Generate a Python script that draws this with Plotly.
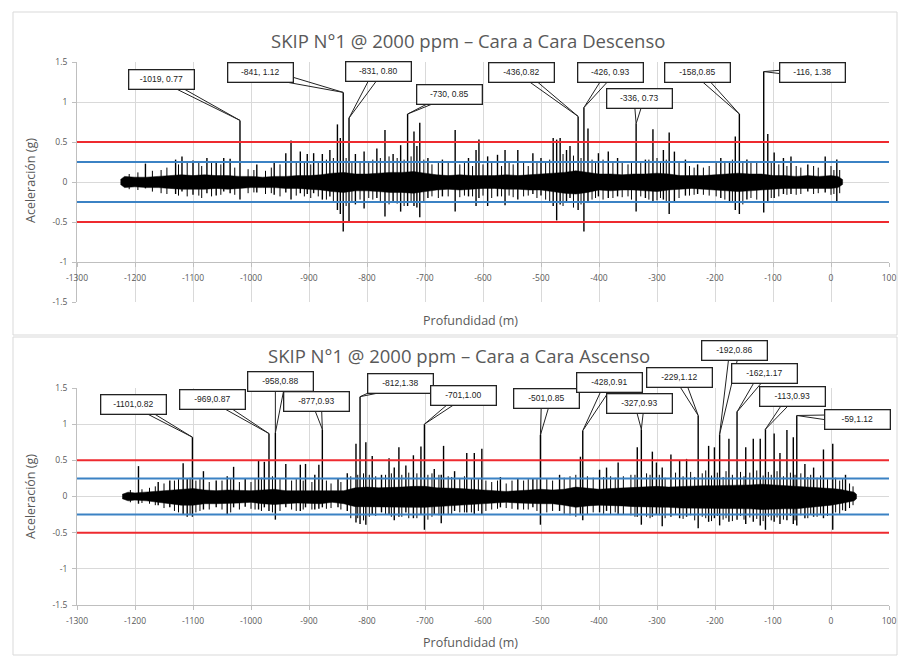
import plotly.graph_objects as go

# ---------------- DATA ----------------
X_TICKS = list(range(-1300, 101, 100))
X_TICK_TEXT = [str(v) for v in X_TICKS]
Y_TICKS = [-1.5, -1, -0.5, 0, 0.5, 1, 1.5]
Y_TICK_TEXT = ["-1.5", "-1", "-0.5", "0", "0.5", "1", "1.5"]
RED_LIMITS = [0.5, -0.5]
BLUE_LIMITS = [0.25, -0.25]

TITLE_TOP = "SKIP N°1 @ 2000 ppm – Cara a Cara Descenso"
TITLE_BOTTOM = "SKIP N°1 @ 2000 ppm – Cara a Cara Ascenso"
X_TITLE = "Profundidad (m)"
Y_TITLE = "Aceleración (g)"

# dense noise core (depth, upper, lower) - Descenso
TOP_ENVELOPE = [
    (-1225, 0.03, -0.03), (-1218, 0.07, -0.07), (-1200, 0.06, -0.06), (-1180, 0.06, -0.07),
    (-1160, 0.07, -0.07), (-1140, 0.08, -0.08), (-1120, 0.09, -0.09), (-1100, 0.08, -0.09),
    (-1080, 0.09, -0.09), (-1060, 0.08, -0.08), (-1040, 0.08, -0.09), (-1020, 0.07, -0.08),
    (-1000, 0.07, -0.07), (-980, 0.06, -0.07), (-960, 0.07, -0.07), (-940, 0.07, -0.08),
    (-920, 0.08, -0.08), (-900, 0.08, -0.09), (-880, 0.09, -0.10), (-860, 0.11, -0.12),
    (-840, 0.12, -0.13), (-820, 0.10, -0.11), (-800, 0.10, -0.11), (-780, 0.11, -0.12),
    (-760, 0.12, -0.13), (-740, 0.12, -0.13), (-720, 0.13, -0.14), (-700, 0.11, -0.12),
    (-680, 0.09, -0.10), (-660, 0.08, -0.09), (-640, 0.09, -0.10), (-620, 0.08, -0.09),
    (-600, 0.08, -0.08), (-580, 0.08, -0.08), (-560, 0.09, -0.09), (-540, 0.08, -0.09),
    (-520, 0.09, -0.10), (-500, 0.10, -0.10), (-480, 0.11, -0.12), (-460, 0.12, -0.14),
    (-440, 0.14, -0.15), (-420, 0.12, -0.13), (-400, 0.10, -0.10), (-380, 0.10, -0.11),
    (-360, 0.09, -0.10), (-340, 0.10, -0.10), (-320, 0.10, -0.11), (-300, 0.11, -0.12),
    (-280, 0.10, -0.10), (-260, 0.08, -0.09), (-240, 0.08, -0.08), (-220, 0.08, -0.09),
    (-200, 0.09, -0.10), (-180, 0.10, -0.11), (-160, 0.11, -0.12), (-140, 0.10, -0.11),
    (-120, 0.10, -0.10), (-100, 0.08, -0.09), (-80, 0.08, -0.08), (-60, 0.07, -0.08),
    (-40, 0.08, -0.08), (-20, 0.07, -0.08), (0, 0.08, -0.08), (12, 0.07, -0.07),
    (20, 0.03, -0.03),
]

# small oscillation peaks (depth, peak, trough) - Descenso
TOP_MINOR = [
    (-1210, 0.10, -0.09), (-1195, 0.12, -0.10), (-1170, 0.14, -0.12), (-1155, 0.15, -0.14),
    (-1145, 0.18, -0.15), (-1125, 0.22, -0.17), (-1110, 0.24, -0.18), (-1090, 0.25, -0.17),
    (-1085, 0.20, -0.20), (-1068, 0.24, -0.18), (-1052, 0.22, -0.16), (-1028, 0.18, -0.16),
    (-1005, 0.16, -0.14), (-995, 0.15, -0.13), (-975, 0.14, -0.15), (-965, 0.18, -0.14),
    (-950, 0.22, -0.18), (-922, 0.24, -0.17), (-908, 0.26, -0.18), (-897, 0.22, -0.20),
    (-884, 0.25, -0.18), (-870, 0.28, -0.22), (-858, 0.30, -0.26), (-836, 0.30, -0.30),
    (-826, 0.26, -0.25), (-812, 0.25, -0.22), (-797, 0.24, -0.20), (-790, 0.28, -0.22),
    (-777, 0.30, -0.24), (-762, 0.32, -0.28), (-748, 0.30, -0.27), (-736, 0.28, -0.30),
    (-724, 0.32, -0.26), (-702, 0.28, -0.24), (-688, 0.22, -0.18), (-677, 0.24, -0.20),
    (-660, 0.25, -0.18), (-640, 0.22, -0.19), (-632, 0.24, -0.17), (-618, 0.20, -0.18),
    (-600, 0.22, -0.17), (-585, 0.24, -0.20), (-568, 0.20, -0.18), (-555, 0.25, -0.17),
    (-548, 0.22, -0.19), (-530, 0.24, -0.18), (-522, 0.20, -0.17), (-507, 0.24, -0.20),
    (-492, 0.26, -0.22), (-485, 0.28, -0.24), (-462, 0.35, -0.30), (-444, 0.33, -0.32),
    (-431, 0.30, -0.28), (-412, 0.28, -0.22), (-406, 0.25, -0.20), (-393, 0.28, -0.22),
    (-376, 0.26, -0.20), (-360, 0.24, -0.19), (-350, 0.22, -0.18), (-344, 0.26, -0.22),
    (-328, 0.24, -0.18), (-314, 0.28, -0.22), (-300, 0.30, -0.23), (-294, 0.26, -0.20),
    (-284, 0.28, -0.24), (-262, 0.24, -0.20), (-244, 0.20, -0.17), (-236, 0.18, -0.16),
    (-220, 0.18, -0.16), (-210, 0.20, -0.17), (-198, 0.24, -0.18), (-183, 0.26, -0.22),
    (-170, 0.28, -0.24), (-152, 0.26, -0.28), (-138, 0.24, -0.20), (-128, 0.26, -0.22),
    (-103, 0.24, -0.20), (-90, 0.22, -0.18), (-76, 0.20, -0.16), (-60, 0.20, -0.16),
    (-52, 0.18, -0.15), (-30, 0.20, -0.15), (-22, 0.18, -0.14), (0, 0.20, -0.16),
    (5, 0.15, -0.15), (15, 0.15, -0.14),
]

# large spikes (depth, peak, trough) - Descenso
TOP_SPIKES = [
    (-1182, 0.23, -0.08), (-1130, 0.28, -0.15), (-1119, 0.32, -0.12), (-1100, 0.27, -0.16),
    (-1076, 0.30, -0.14), (-1060, 0.26, -0.17), (-1047, 0.30, -0.12), (-1036, 0.29, -0.14),
    (-1019, 0.77, -0.22), (-990, 0.22, -0.13), (-960, 0.24, -0.16), (-940, 0.36, -0.13),
    (-931, 0.52, -0.22), (-915, 0.38, -0.14), (-903, 0.35, -0.15), (-892, 0.36, -0.14),
    (-877, 0.35, -0.22), (-864, 0.40, -0.18), (-851, 0.72, -0.35), (-846, 0.55, -0.40),
    (-841, 1.12, -0.62), (-831, 0.80, -0.50), (-820, 0.35, -0.28), (-805, 0.38, -0.33),
    (-783, 0.42, -0.20), (-769, 0.65, -0.43), (-755, 0.35, -0.25), (-742, 0.46, -0.37),
    (-730, 0.85, -0.30), (-719, 0.63, -0.30), (-714, 0.45, -0.32), (-709, 0.74, -0.44),
    (-695, 0.30, -0.20), (-670, 0.28, -0.18), (-648, 0.65, -0.37), (-625, 0.30, -0.18),
    (-612, 0.40, -0.30), (-607, 0.53, -0.20), (-592, 0.32, -0.30), (-575, 0.34, -0.18),
    (-562, 0.40, -0.29), (-540, 0.40, -0.22), (-514, 0.36, -0.15), (-500, 0.30, -0.17),
    (-479, 0.55, -0.30), (-473, 0.53, -0.48), (-467, 0.55, -0.28), (-456, 0.40, -0.25),
    (-450, 0.45, -0.20), (-436, 0.82, -0.35), (-426, 0.93, -0.62), (-419, 0.67, -0.25),
    (-401, 0.36, -0.18), (-384, 0.38, -0.20), (-368, 0.30, -0.18), (-336, 0.73, -0.37),
    (-320, 0.28, -0.20), (-307, 0.66, -0.25), (-289, 0.40, -0.22), (-279, 0.62, -0.40),
    (-270, 0.38, -0.25), (-251, 0.28, -0.17), (-230, 0.22, -0.15), (-190, 0.30, -0.20),
    (-175, 0.26, -0.25), (-165, 0.57, -0.35), (-158, 0.85, -0.40), (-145, 0.28, -0.22),
    (-116, 1.38, -0.38), (-109, 0.60, -0.25), (-98, 0.37, -0.20), (-82, 0.30, -0.15),
    (-69, 0.32, -0.15), (-40, 0.22, -0.12), (-10, 0.32, -0.13), (10, 0.28, -0.25),
]

# labelled peaks - Descenso
TOP_PEAK_X = [-1019, -841, -831, -730, -436, -426, -336, -158, -116]
TOP_PEAK_Y = [0.77, 1.12, 0.80, 0.85, 0.82, 0.93, 0.73, 0.85, 1.38]
TOP_PEAK_TEXT = ["-1019, 0.77", "-841, 1.12", "-831, 0.80", "-730, 0.85", "-436,0.82",
                 "-426, 0.93", "-336, 0.73", "-158,0.85", "-116, 1.38"]

# dense noise core - Ascenso
BOTTOM_ENVELOPE = [
    (-1222, 0.03, -0.03), (-1212, 0.06, -0.06), (-1200, 0.05, -0.05), (-1180, 0.06, -0.06),
    (-1160, 0.07, -0.07), (-1140, 0.08, -0.10), (-1120, 0.10, -0.12), (-1100, 0.11, -0.12),
    (-1080, 0.09, -0.10), (-1060, 0.08, -0.10), (-1040, 0.09, -0.10), (-1020, 0.08, -0.09),
    (-1000, 0.08, -0.08), (-980, 0.09, -0.10), (-960, 0.10, -0.11), (-940, 0.08, -0.10),
    (-920, 0.08, -0.09), (-900, 0.08, -0.09), (-880, 0.08, -0.10), (-860, 0.07, -0.08),
    (-840, 0.08, -0.10), (-820, 0.12, -0.14), (-800, 0.13, -0.15), (-780, 0.12, -0.14),
    (-760, 0.12, -0.14), (-740, 0.13, -0.15), (-720, 0.14, -0.15), (-700, 0.14, -0.15),
    (-680, 0.12, -0.14), (-660, 0.12, -0.13), (-640, 0.11, -0.12), (-620, 0.10, -0.12),
    (-600, 0.09, -0.10), (-580, 0.08, -0.09), (-560, 0.07, -0.08), (-540, 0.08, -0.09),
    (-520, 0.09, -0.10), (-500, 0.10, -0.10), (-480, 0.09, -0.10), (-460, 0.10, -0.12),
    (-440, 0.13, -0.15), (-420, 0.12, -0.13), (-400, 0.10, -0.12), (-380, 0.11, -0.12),
    (-360, 0.12, -0.13), (-340, 0.12, -0.14), (-320, 0.13, -0.15), (-300, 0.14, -0.15),
    (-280, 0.13, -0.15), (-260, 0.14, -0.16), (-240, 0.15, -0.16), (-220, 0.15, -0.17),
    (-200, 0.15, -0.17), (-180, 0.15, -0.17), (-160, 0.15, -0.17), (-140, 0.16, -0.17),
    (-120, 0.17, -0.18), (-100, 0.16, -0.18), (-80, 0.15, -0.17), (-60, 0.15, -0.17),
    (-40, 0.14, -0.15), (-20, 0.12, -0.14), (0, 0.11, -0.12), (15, 0.10, -0.10),
    (30, 0.08, -0.08), (40, 0.06, -0.06), (44, 0.03, -0.03),
]

# small oscillation peaks - Ascenso
BOTTOM_MINOR = [
    (-1208, 0.09, -0.08), (-1188, 0.10, -0.09), (-1175, 0.12, -0.10), (-1165, 0.14, -0.12),
    (-1150, 0.18, -0.16), (-1132, 0.22, -0.20), (-1125, 0.24, -0.22), (-1105, 0.26, -0.25),
    (-1095, 0.22, -0.22), (-1088, 0.24, -0.20), (-1072, 0.20, -0.18), (-1050, 0.22, -0.18),
    (-1035, 0.24, -0.22), (-1020, 0.20, -0.18), (-1000, 0.20, -0.17), (-993, 0.25, -0.18),
    (-982, 0.26, -0.20), (-963, 0.28, -0.22), (-950, 0.24, -0.20), (-930, 0.22, -0.18),
    (-922, 0.24, -0.20), (-910, 0.22, -0.18), (-895, 0.20, -0.18), (-870, 0.22, -0.17),
    (-862, 0.18, -0.16), (-845, 0.20, -0.18), (-828, 0.28, -0.30), (-816, 0.30, -0.30),
    (-806, 0.32, -0.33), (-796, 0.30, -0.28), (-785, 0.28, -0.27), (-768, 0.30, -0.25),
    (-758, 0.32, -0.28), (-740, 0.30, -0.28), (-728, 0.33, -0.30), (-714, 0.32, -0.30),
    (-695, 0.30, -0.32), (-688, 0.32, -0.28), (-676, 0.30, -0.26), (-660, 0.28, -0.25),
    (-654, 0.27, -0.24), (-640, 0.25, -0.22), (-632, 0.28, -0.22), (-620, 0.25, -0.22),
    (-608, 0.24, -0.20), (-595, 0.22, -0.20), (-585, 0.20, -0.18), (-575, 0.22, -0.17),
    (-560, 0.18, -0.16), (-550, 0.22, -0.17), (-530, 0.22, -0.18), (-522, 0.24, -0.18),
    (-507, 0.24, -0.20), (-490, 0.24, -0.22), (-480, 0.22, -0.20), (-460, 0.26, -0.24),
    (-450, 0.28, -0.26), (-440, 0.30, -0.28), (-420, 0.28, -0.25), (-410, 0.26, -0.22),
    (-392, 0.27, -0.24), (-380, 0.28, -0.25), (-372, 0.26, -0.22), (-358, 0.28, -0.25),
    (-345, 0.30, -0.26), (-338, 0.30, -0.28), (-318, 0.32, -0.28), (-312, 0.30, -0.30),
    (-296, 0.30, -0.26), (-286, 0.26, -0.30), (-268, 0.33, -0.24), (-255, 0.28, -0.31),
    (-242, 0.34, -0.26), (-235, 0.27, -0.33), (-222, 0.32, -0.28), (-216, 0.36, -0.30),
    (-206, 0.29, -0.34), (-196, 0.33, -0.27), (-186, 0.27, -0.32), (-181, 0.35, -0.30),
    (-170, 0.30, -0.34), (-156, 0.34, -0.27), (-150, 0.28, -0.32), (-140, 0.33, -0.29),
    (-128, 0.36, -0.31), (-117, 0.29, -0.34), (-108, 0.34, -0.28), (-103, 0.30, -0.33),
    (-93, 0.35, -0.29), (-82, 0.28, -0.32), (-70, 0.33, -0.27), (-62, 0.30, -0.33),
    (-52, 0.32, -0.26), (-40, 0.27, -0.30), (-35, 0.30, -0.25), (-24, 0.26, -0.28),
    (-18, 0.29, -0.24), (-6, 0.24, -0.27), (8, 0.26, -0.22), (15, 0.22, -0.24),
    (20, 0.24, -0.19), (32, 0.18, -0.16), (38, 0.14, -0.12),
]

# large spikes - Ascenso
BOTTOM_SPIKES = [
    (-1194, 0.42, -0.10), (-1160, 0.20, -0.12), (-1140, 0.22, -0.15), (-1117, 0.46, -0.25),
    (-1110, 0.25, -0.28), (-1101, 0.82, -0.28), (-1082, 0.35, -0.18), (-1060, 0.22, -0.15),
    (-1041, 0.28, -0.25), (-1030, 0.41, -0.15), (-1010, 0.25, -0.14), (-987, 0.50, -0.18),
    (-977, 0.48, -0.15), (-969, 0.87, -0.20), (-958, 0.88, -0.32), (-940, 0.45, -0.15),
    (-915, 0.44, -0.20), (-906, 0.45, -0.15), (-890, 0.30, -0.18), (-883, 0.44, -0.17),
    (-877, 0.93, -0.15), (-850, 0.25, -0.15), (-834, 0.32, -0.20), (-819, 0.73, -0.36),
    (-812, 1.38, -0.38), (-802, 0.75, -0.39), (-791, 0.56, -0.25), (-775, 0.30, -0.22),
    (-762, 0.53, -0.25), (-753, 0.40, -0.33), (-745, 0.68, -0.28), (-733, 0.43, -0.22),
    (-720, 0.57, -0.30), (-707, 0.69, -0.25), (-701, 1.00, -0.46), (-684, 0.38, -0.25),
    (-672, 0.30, -0.37), (-668, 0.70, -0.25), (-649, 0.35, -0.20), (-628, 0.60, -0.22),
    (-615, 0.60, -0.25), (-602, 0.66, -0.25), (-570, 0.27, -0.15), (-540, 0.25, -0.18),
    (-514, 0.25, -0.15), (-501, 0.85, -0.39), (-468, 0.30, -0.20), (-432, 0.55, -0.25),
    (-428, 0.91, -0.33), (-399, 0.37, -0.22), (-387, 0.40, -0.20), (-367, 0.47, -0.25),
    (-334, 0.68, -0.28), (-327, 0.93, -0.39), (-308, 0.62, -0.28), (-301, 0.47, -0.25),
    (-291, 0.40, -0.41), (-276, 0.58, -0.28), (-261, 0.50, -0.30), (-249, 0.52, -0.28),
    (-229, 1.12, -0.44), (-211, 0.70, -0.35), (-201, 0.68, -0.30), (-192, 0.86, -0.40),
    (-176, 0.80, -0.35), (-162, 1.17, -0.32), (-147, 0.68, -0.38), (-134, 0.80, -0.35),
    (-122, 0.80, -0.40), (-113, 0.93, -0.46), (-98, 0.87, -0.35), (-88, 0.60, -0.38),
    (-76, 0.92, -0.33), (-65, 0.82, -0.38), (-59, 1.12, -0.40), (-45, 0.45, -0.30),
    (-30, 0.40, -0.28), (-13, 0.65, -0.30), (3, 0.73, -0.46), (25, 0.30, -0.20),
]

BOTTOM_PEAK_X = [-1101, -969, -958, -877, -812, -701, -501, -428, -327, -229, -192, -162, -113, -59]
BOTTOM_PEAK_Y = [0.82, 0.87, 0.88, 0.93, 1.38, 1.00, 0.85, 0.91, 0.93, 1.12, 0.86, 1.17, 0.93, 1.12]
BOTTOM_PEAK_TEXT = ["-1101,0.82", "-969,0.87", "-958,0.88", "-877,0.93", "-812,1.38", "-701,1.00",
                    "-501,0.85", "-428,0.91", "-327,0.93", "-229,1.12", "-192,0.86", "-162,1.17",
                    "-113,0.93", "-59,1.12"]

# ---------------- LAYOUT / STYLE ----------------
TOP_CALLOUT_OFFSETS = [(-78, -41), (-83, -20), (29, -46), (42, -19), (-57, -44),
                       (27, -35), (3, -25), (-42, -41), (49, 1)]
BOTTOM_CALLOUT_OFFSETS = [(-59, -33), (-56, -34), (5, -51), (-6, -28), (40, -13), (39, -29),
                          (6, -37), (27, -48), (-2, -26), (-19, -38), (15, -84), (27, -38),
                          (27, -33), (61, 4)]

W, H = 900, 656
X_DOM = [77 / W, 889 / W]
TOP_DOM = [1 - 302 / H, 1 - 62 / H]
BOT_DOM = [1 - 605 / H, 1 - 388 / H]
GREY = "#595959"
GRID = "#d9d9d9"
AXLINE = "#bfbfbf"
FONT = "Open Sans"
WEDGE = 5  # half-width of the callout wedge at the label, px

fig = go.Figure()


def segs(items):
    sx, sy = [], []
    for d, hi, lw in items:
        sx += [d, d, None]
        sy += [lw, hi, None]
    return sx, sy


def add_signal(envelope, minor, spikes, xa, ya):
    xs = [e[0] for e in envelope]
    up = [e[1] for e in envelope]
    lo = [e[2] for e in envelope]
    fig.add_trace(go.Scatter(
        x=xs + xs[::-1], y=up + lo[::-1], fill="toself", fillcolor="black",
        mode="lines", line=dict(color="black", width=0.5), xaxis=xa, yaxis=ya,
        hoverinfo="skip", showlegend=False))
    mx, my = segs(minor)
    fig.add_trace(go.Scatter(
        x=mx, y=my, mode="lines", line=dict(color="black", width=1.0),
        xaxis=xa, yaxis=ya, hoverinfo="skip", showlegend=False))
    sx, sy = segs(spikes)
    fig.add_trace(go.Scatter(
        x=sx, y=sy, mode="lines", line=dict(color="black", width=1.4),
        xaxis=xa, yaxis=ya, hoverinfo="skip", showlegend=False))


add_signal(TOP_ENVELOPE, TOP_MINOR, TOP_SPIKES, "x", "y")
add_signal(BOTTOM_ENVELOPE, BOTTOM_MINOR, BOTTOM_SPIKES, "x2", "y2")

shapes = []
for yref in ("y", "y2"):
    xdom = "x domain" if yref == "y" else "x2 domain"
    for v in RED_LIMITS:
        shapes.append(dict(type="line", xref=xdom, x0=0, x1=1, yref=yref, y0=v, y1=v,
                           line=dict(color="#ee2a2f", width=2)))
    for v in BLUE_LIMITS:
        shapes.append(dict(type="line", xref=xdom, x0=0, x1=1, yref=yref, y0=v, y1=v,
                           line=dict(color="#3b82c4", width=2)))
# chart frames
shapes.append(dict(type="rect", xref="paper", yref="paper", x0=13 / W, x1=897 / W,
                   y0=1 - 335 / H, y1=1 - 12 / H, line=dict(color="#d9d9d9", width=1), layer="below"))
shapes.append(dict(type="rect", xref="paper", yref="paper", x0=13 / W, x1=897 / W,
                   y0=1 - 655 / H, y1=1 - 337 / H, line=dict(color="#d9d9d9", width=1), layer="below"))

wedges = []
boxes = []


def callouts(xs, ys, texts, offsets, xref, yref):
    for x, y, t, (ax, ay) in zip(xs, ys, texts, offsets):
        horiz = abs(ay) < abs(ax) * 0.4
        for s in (-WEDGE, WEDGE):
            wedges.append(dict(
                x=x, y=y, xref=xref, yref=yref, text=" ", showarrow=True, arrowhead=0,
                arrowwidth=1, arrowcolor="#222", standoff=0, startstandoff=0,
                ax=ax if horiz else ax + s, ay=ay + s if horiz else ay,
                axref="pixel", ayref="pixel", font=dict(size=1)))
        boxes.append(dict(
            x=x, y=y, xref=xref, yref=yref, text=t, showarrow=True, arrowhead=0,
            arrowwidth=1, arrowcolor="rgba(0,0,0,0)", ax=ax, ay=ay, axref="pixel", ayref="pixel",
            bordercolor="#222", borderwidth=1.3, borderpad=3, bgcolor="white",
            width=58, height=12,
            font=dict(family="Liberation Sans Narrow, Liberation Sans, Arial", size=8.5, color="#222")))


callouts(TOP_PEAK_X, TOP_PEAK_Y, TOP_PEAK_TEXT, TOP_CALLOUT_OFFSETS, "x", "y")
callouts(BOTTOM_PEAK_X, BOTTOM_PEAK_Y, BOTTOM_PEAK_TEXT, BOTTOM_CALLOUT_OFFSETS, "x2", "y2")

annotations = wedges + boxes

for txt, cx, cy in [(TITLE_TOP, 468, 40), (TITLE_BOTTOM, 459, 355)]:
    annotations.append(dict(text=txt, x=cx / W, y=1 - cy / H, xref="paper", yref="paper",
                            showarrow=False, xanchor="center", yanchor="middle",
                            font=dict(family=FONT, size=18.5, color=GREY)))
for cy in (321, 642):
    annotations.append(dict(text=X_TITLE, x=470 / W, y=1 - cy / H, xref="paper", yref="paper",
                            showarrow=False, xanchor="center", yanchor="middle",
                            font=dict(family=FONT, size=12.5, color=GREY)))
for cy in (181, 497):
    annotations.append(dict(text=Y_TITLE, x=31 / W, y=1 - cy / H, xref="paper", yref="paper",
                            showarrow=False, xanchor="center", yanchor="middle", textangle=-90,
                            font=dict(family=FONT, size=12.5, color=GREY)))

tickfont = dict(family=FONT, size=8.5, color=GREY)
xcommon = dict(range=[-1300, 100], tickvals=X_TICKS, ticktext=X_TICK_TEXT, showgrid=True,
               gridcolor=GRID, gridwidth=1, zeroline=False, showline=True, linecolor=AXLINE,
               ticks="outside", ticklen=4, tickcolor=AXLINE, tickfont=tickfont,
               domain=X_DOM, ticklabelstandoff=4, automargin=False)
ycommon = dict(range=[-1.5, 1.5], tickvals=Y_TICKS, ticktext=Y_TICK_TEXT, showgrid=True,
               gridcolor=GRID, zeroline=False, showline=True, linecolor=AXLINE, ticks="outside",
               ticklen=4, tickcolor=AXLINE, tickfont=tickfont, ticklabelstandoff=3,
               automargin=False)

top_axis_pos = TOP_DOM[0] + (TOP_DOM[1] - TOP_DOM[0]) * (1 / 6)

fig.update_layout(
    width=W, height=H, margin=dict(l=0, r=0, t=0, b=0, autoexpand=False),
    paper_bgcolor="white", plot_bgcolor="white", showlegend=False,
    xaxis=dict(**xcommon, anchor="free", position=top_axis_pos),
    yaxis=dict(**ycommon, domain=TOP_DOM, anchor="x"),
    xaxis2=dict(**xcommon, anchor="y2"),
    yaxis2=dict(**ycommon, domain=BOT_DOM, anchor="x2"),
    shapes=shapes, annotations=annotations,
)

fig.write_html("out.html", config={"displayModeBar": False},
               post_script="document.body.style.margin='0px';")
